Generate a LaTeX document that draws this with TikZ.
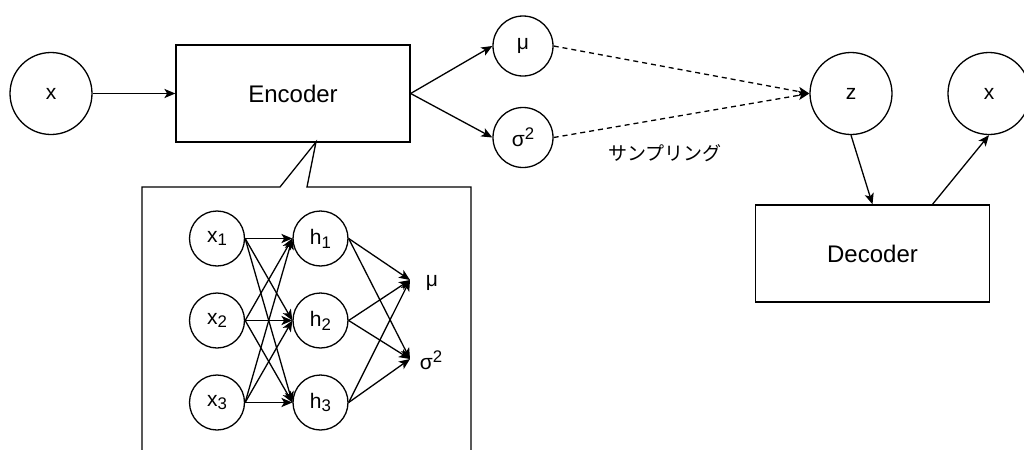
\documentclass[tikz,border=0pt]{standalone}
\usepackage{fontspec}
\setmainfont{Liberation Sans}
\newfontfamily\jpfont{Noto Sans CJK JP}
\usetikzlibrary{arrows.meta}

% index and exponent in the style of the labels
\newcommand\lowidx[1]{\raisebox{-0.35ex}{\scalebox{0.8}{#1}}}
\newcommand\highidx[1]{\raisebox{0.6ex}{\scalebox{0.8}{#1}}}

\tikzset{
  lbl/.style={font=\fontsize{10.5}{12}\selectfont},
  bigc/.style={circle, draw, line width=0.65pt, minimum size=41pt, inner sep=0pt, lbl},
  smallc/.style={circle, draw, line width=0.65pt, minimum size=30pt, inner sep=0pt, lbl},
  netc/.style={circle, draw, line width=0.65pt, minimum size=27.5pt, inner sep=0pt, font=\fontsize{10.5}{12}\selectfont},
  block/.style={rectangle, draw, line width=0.65pt, minimum width=117pt, minimum height=48.5pt, inner sep=0pt, font=\fontsize{12}{14}\selectfont},
  conn/.style={line width=0.65pt, -{Stealth[length=5.5pt, width=4.6pt, inset=1.4pt]}},
  sample/.style={conn, dash pattern=on 2.5pt off 2pt},
  frame/.style={line width=0.65pt}
}

\begin{document}
\begin{tikzpicture}[x=0.5pt, y=-0.5pt]
  \useasboundingbox (0,0) rectangle (1024,450);

  % encoder side
  \node[bigc] (xin) at (51,93.5) {x};
  \node[block] (enc) at (293,93.5) {Encoder};
  \node[smallc] (mu) at (523,46) {μ};
  \node[smallc] (sig) at (523,137.5) {σ\highidx{2}};

  % latent and decoder side
  \node[bigc] (z) at (851,93.5) {z};
  \node[bigc] (xout) at (989,93.5) {x};
  \node[block] (dec) at (872.5,253.5) {Decoder};
  \node[font=\jpfont\fontsize{9.5}{11}\selectfont] (samp) at (665,153) {サンプリング};

  \draw[conn] (xin.east) -- (enc.west);
  \draw[conn] (enc.east) -- (mu.west);
  \draw[conn] (enc.east) -- (sig.west);
  \draw[sample] (mu.east) -- (z.west);
  \draw[sample] (sig.east) -- (z.west);
  \draw[conn] (z.south) -- (dec.north);
  \draw[conn] ([xshift=30pt]dec.north) -- (xout.south);

  % callout showing the encoder network
  \coordinate (c1) at (280,187);
  \coordinate (tip) at (316,142);
  \coordinate (c2) at (307,187);
  \coordinate (cl) at (142,187);
  \coordinate (cr) at (471,187);
  \draw[frame] (142,452) -- (cl) -- (c1) -- (tip) -- (c2) -- (cr) -- (471,452);

  \node[netc] (x1) at (217,238.5) {x\lowidx{1}};
  \node[netc] (x2) at (217,320.5) {x\lowidx{2}};
  \node[netc] (x3) at (217,402.5) {x\lowidx{3}};
  \node[netc] (h1) at (320.5,238.5) {h\lowidx{1}};
  \node[netc] (h2) at (320.5,320.5) {h\lowidx{2}};
  \node[netc] (h3) at (320.5,402.5) {h\lowidx{3}};
  \coordinate (omu) at (410,280);
  \coordinate (osig) at (410,359);
  \node[netc, draw=none] (mulab) at (432,283) {μ};
  \node[netc, draw=none] (siglab) at (431,360) {σ\highidx{2}};

  \foreach \i in {1,2,3}{
    \foreach \j in {1,2,3}{
      \draw[conn] (x\i.east) -- (h\j.west);
    }
    \draw[conn] (h\i.east) -- (omu);
    \draw[conn] (h\i.east) -- (osig);
  }
\end{tikzpicture}
\end{document}
